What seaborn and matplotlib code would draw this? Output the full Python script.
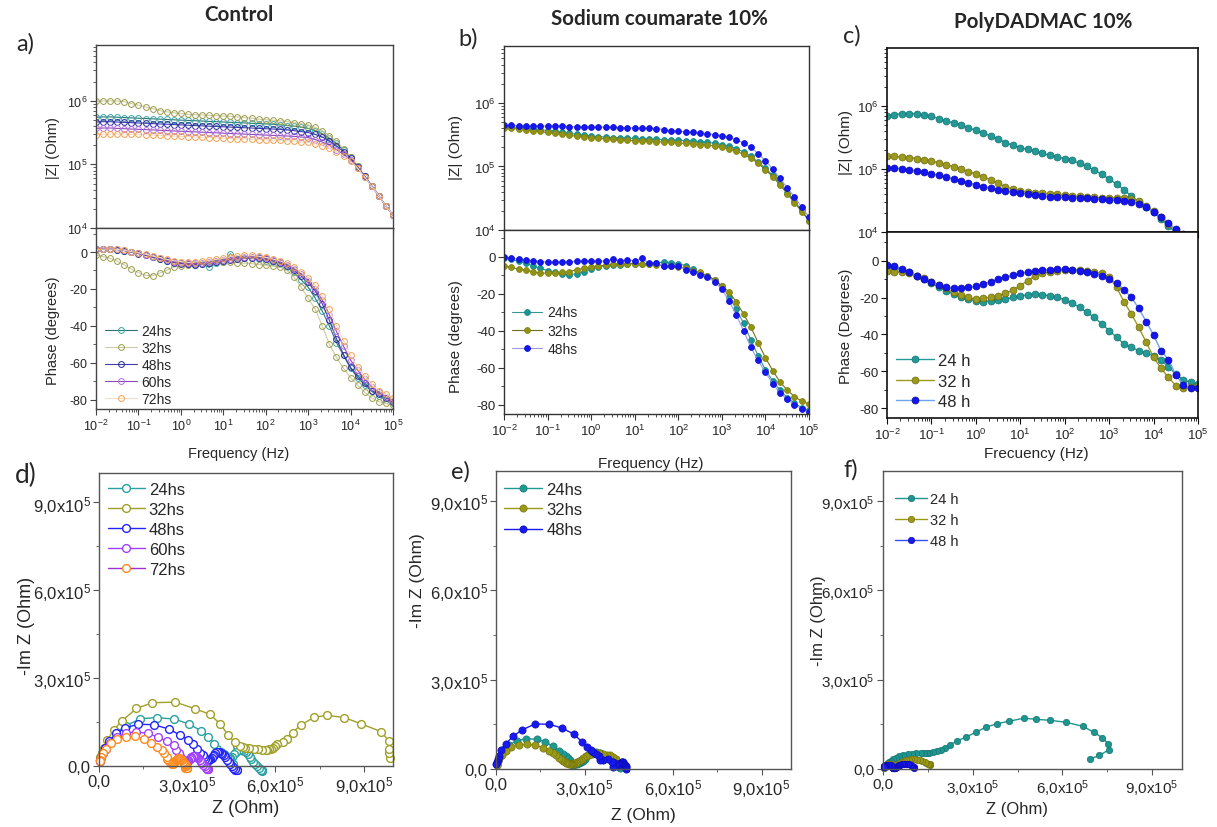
import numpy as np
import matplotlib
matplotlib.use("Agg")
import matplotlib.pyplot as plt
import seaborn as sns
from matplotlib.ticker import (FuncFormatter, LogLocator, MultipleLocator,
                               NullFormatter)

# ------------------------------------------------------------------ data
# measurement grid: 6 frequencies per decade, 10 mHz .. 100 kHz
FREQ_MANTISSA = [1.0, 1.468, 2.154, 3.162, 4.642, 6.813]
FREQ_DECADES = [-2, -1, 0, 1, 2, 3, 4]
FREQ = [m * 10.0 ** d for d in FREQ_DECADES for m in FREQ_MANTISSA] + [1.0e5]

# a) Control -- |Z| in kOhm, phase in degrees (low -> high frequency)
A_LABELS = ["24hs", "32hs", "48hs", "60hs", "72hs"]
A_ZMOD_24 = [550, 556, 556, 550, 543, 537, 531, 525, 519, 513,
             507, 501, 495, 490, 484, 479, 473, 468, 462, 457,
             452, 447, 442, 437, 431, 427, 417, 407, 398, 385,
             367, 339, 302, 257, 214, 166, 129, 93, 65, 46,
             32, 22, 16]
A_ZMOD_32 = [989, 989, 989, 989, 966, 902, 851, 794, 750, 700,
             668, 646, 631, 610, 603, 596, 589, 582, 575, 569,
             556, 543, 531, 513, 501, 495, 484, 468, 452, 437,
             417, 380, 339, 282, 234, 174, 132, 93, 65, 46,
             32, 22, 16]
A_ZMOD_48 = [462, 468, 468, 462, 457, 452, 447, 442, 437, 431,
             427, 422, 417, 412, 407, 403, 398, 394, 389, 385,
             380, 376, 372, 367, 363, 359, 355, 347, 339, 327,
             316, 295, 269, 234, 195, 158, 126, 91, 65, 46,
             32, 22, 16]
A_ZMOD_60 = [367, 372, 372, 367, 363, 359, 355, 351, 347, 343,
             339, 335, 331, 327, 324, 320, 316, 313, 309, 305,
             302, 299, 295, 292, 288, 285, 282, 279, 275, 269,
             263, 245, 224, 200, 170, 145, 117, 89, 63, 45,
             32, 22, 16]
A_ZMOD_72 = [292, 295, 299, 299, 299, 295, 295, 292, 288, 285,
             282, 279, 275, 272, 269, 266, 263, 260, 257, 254,
             251, 251, 248, 245, 243, 240, 237, 234, 232, 226,
             221, 209, 195, 178, 158, 135, 112, 87, 63, 45,
             32, 22, 16]
A_PHASE_24 = [1.4, 1.6, 1.5, 1.3, 0.8, 0.0, -0.8, -1.6, -2.6, -3.6,
              -4.6, -5.4, -6.0, -6.5, -7.0, -6.6, -8.3, -6.0, -5.2, -1.0,
              -3.8, -3.4, -3.4, -4.0, -4.6, -5.4, -6.4, -8.0, -11.0, -15.0,
              -19.0, -25.0, -32.0, -40.0, -49.0, -56.0, -63.0, -68.0, -72.0, -75.5,
              -78.0, -80.0, -82.0]
A_PHASE_32 = [-1.5, -2.5, -3.4, -5.0, -7.0, -9.2, -11.2, -12.6, -12.8, -11.5,
              -9.8, -8.2, -7.5, -7.0, -6.5, -6.0, -5.8, -5.6, -5.5, -5.5,
              -5.8, -6.0, -6.3, -6.8, -7.2, -7.6, -8.2, -10.0, -13.5, -19.0,
              -25.0, -31.0, -40.0, -50.0, -57.0, -63.0, -68.0, -72.0, -76.0, -79.0,
              -81.0, -82.0, -83.0]
A_PHASE_48 = [1.5, 1.7, 1.6, 1.3, 0.8, 0.0, -0.9, -1.8, -2.9, -4.0,
              -5.0, -5.8, -6.3, -6.6, -6.8, -6.6, -6.2, -5.6, -5.0, -4.3,
              -3.7, -3.3, -3.1, -3.4, -4.0, -4.8, -5.8, -7.5, -10.0, -13.0,
              -16.5, -21.0, -28.0, -37.0, -47.0, -55.5, -62.5, -67.0, -71.0, -75.0,
              -77.0, -79.0, -81.0]
A_PHASE_60 = [1.6, 1.8, 1.7, 1.5, 1.0, 0.2, -0.6, -1.5, -2.5, -3.5,
              -4.5, -5.3, -5.8, -6.1, -6.2, -6.0, -5.6, -5.0, -4.4, -3.8,
              -3.2, -2.8, -2.6, -2.9, -3.5, -4.3, -5.2, -7.0, -9.0, -12.0,
              -15.5, -20.0, -26.0, -34.0, -43.0, -51.0, -58.5, -64.0, -69.0, -73.0,
              -76.0, -78.5, -80.5]
A_PHASE_72 = [1.2, 1.6, 1.6, 1.4, 1.0, 0.2, -0.5, -1.2, -2.2, -3.0,
              -4.0, -4.7, -5.2, -5.6, -5.5, -5.0, -4.5, -4.0, -3.4, -2.6,
              -2.0, -1.6, -1.8, -2.3, -2.9, -3.8, -4.8, -6.0, -8.0, -11.0,
              -14.0, -18.0, -24.0, -31.0, -40.0, -48.0, -56.0, -62.0, -67.0, -71.5,
              -75.0, -77.0, -79.0]

# b) Sodium coumarate 10%
B_LABELS = ["24hs", "32hs", "48hs"]
B_ZMOD_24 = [421.7, 416.9, 407.4, 398.1, 389.0, 380.2, 367.3, 354.8, 342.8, 331.1,
             319.9, 309.0, 302.0, 295.1, 288.4, 285.1, 281.8, 278.6, 275.4, 272.3,
             269.2, 266.1, 263.0, 260.0, 257.0, 254.1, 251.2, 245.5, 239.9, 231.7,
             221.3, 206.5, 190.5, 169.8, 144.5, 117.5, 93.3, 72.4, 53.7, 38.9,
             28.2, 20.4, 14.1]
B_ZMOD_32 = [407.4, 398.1, 389.0, 380.2, 367.3, 354.8, 342.8, 331.1, 319.9, 309.0,
             298.5, 288.4, 281.8, 275.4, 270.4, 266.1, 261.8, 257.0, 254.1, 251.2,
             248.3, 245.5, 242.7, 238.8, 234.4, 230.1, 226.5, 221.3, 216.3, 208.9,
             199.5, 188.4, 173.8, 154.9, 134.9, 112.2, 89.1, 69.2, 51.3, 37.2,
             26.9, 19.5, 14.1]
B_ZMOD_48 = [441.6, 441.6, 439.5, 436.5, 434.5, 432.5, 430.5, 428.5, 426.6, 424.6,
             422.7, 420.7, 418.8, 416.9, 415.0, 412.0, 409.0, 407.0, 403.0, 398.0,
             398.0, 394.0, 380.0, 363.0, 355.0, 351.0, 343.0, 335.0, 327.0, 316.0,
             305.0, 288.0, 263.0, 234.0, 200.0, 158.0, 123.0, 91.0, 65.0, 46.0,
             33.0, 23.0, 16.0]
B_PHASE_24 = [-0.5, -1.5, -2.5, -3.6, -4.9, -6.3, -7.5, -8.5, -9.5, -9.7,
              -9.2, -8.0, -6.5, -5.5, -4.8, -4.5, -4.3, -4.0, -3.8, -4.0,
              -3.8, -3.5, -2.8, -3.2, -3.8, -4.8, -6.8, -8.8, -10.3, -12.5,
              -16.0, -21.5, -28.5, -36.0, -45.0, -53.5, -61.0, -67.0, -72.0, -76.0,
              -79.0, -81.5, -83.0]
B_PHASE_32 = [-4.9, -5.8, -6.7, -7.2, -8.1, -8.8, -8.9, -8.9, -8.5, -8.0,
              -7.0, -6.3, -5.3, -5.0, -4.6, -4.2, -3.8, -3.7, -3.8, -4.0,
              -4.2, -4.4, -4.8, -5.2, -5.6, -6.3, -7.5, -8.5, -10.2, -12.6,
              -15.8, -19.0, -24.5, -31.0, -38.0, -46.5, -54.5, -61.5, -67.5, -72.0,
              -75.5, -78.0, -79.5]
B_PHASE_48 = [0.0, -0.8, -1.3, -1.7, -2.2, -2.6, -3.0, -3.0, -3.0, -2.7,
              -2.4, -2.3, -2.2, -2.4, -2.4, -1.5, -2.3, -1.8, -2.2, -0.8,
              -3.6, -3.2, -5.2, -5.0, -5.0, -7.2, -8.4, -9.8, -11.0, -13.5,
              -17.5, -24.0, -31.5, -40.0, -49.0, -56.0, -62.5, -68.5, -73.5, -77.0,
              -80.0, -82.0, -84.0]

# c) PolyDADMAC 10%
C_LABELS = ["24 h", "32 h", "48 h"]
C_ZMOD_24 = [691.8, 724.4, 758.6, 758.6, 741.3, 716.1, 683.9, 631.0, 582.1, 537.0,
             501.2, 451.9, 412.1, 371.5, 335.0, 298.5, 263.0, 237.1, 218.8, 204.2,
             190.5, 177.8, 164.1, 154.9, 146.2, 136.5, 123.0, 109.6, 95.5, 82.2,
             69.2, 57.5, 46.8, 37.2, 30.2, 25.1, 20.4, 16.2, 12.6, 9.8,
             7.6, 6.0, 4.8]
C_ZMOD_32 = [158.5, 158.5, 154.9, 151.4, 146.2, 141.3, 133.4, 125.9, 117.5, 108.4,
             100.0, 91.2, 83.2, 75.0, 67.6, 58.9, 52.5, 47.9, 44.7, 43.2,
             42.2, 41.2, 40.3, 39.4, 38.5, 37.6, 36.7, 36.1, 35.6, 35.2,
             34.9, 34.7, 34.3, 33.5, 30.9, 26.3, 21.4, 17.0, 13.5, 10.7,
             8.5, 6.8, 5.4]
C_ZMOD_48 = [103.5, 102.8, 101.2, 97.7, 93.3, 89.1, 84.1, 79.4, 74.1, 69.2,
             64.6, 60.3, 56.2, 52.5, 49.5, 46.8, 44.7, 43.2, 41.7, 39.8,
             38.5, 37.2, 36.3, 35.7, 35.3, 34.9, 34.5, 34.1, 33.7, 33.3,
             32.7, 32.0, 31.3, 30.2, 28.2, 24.5, 20.9, 17.4, 13.8, 11.0,
             9.3, 7.6, 6.2]
C_PHASE_24 = [-2.7, -3.6, -4.9, -6.3, -8.1, -9.9, -12.1, -14.4, -16.3, -18.1,
              -19.9, -20.8, -21.7, -22.2, -21.7, -21.1, -20.8, -19.9, -19.0, -18.4,
              -18.1, -18.4, -19.0, -19.9, -21.1, -22.9, -25.3, -28.0, -30.7, -34.3,
              -37.9, -41.5, -45.1, -47.0, -48.8, -50.0, -51.5, -54.0, -57.5, -61.5,
              -64.5, -66.0, -67.0]
C_PHASE_32 = [-5.4, -6.0, -6.3, -6.9, -8.1, -9.6, -11.4, -13.2, -15.0, -17.2,
              -18.6, -19.9, -20.8, -20.4, -19.9, -19.0, -17.7, -15.9, -13.5, -10.8,
              -8.1, -6.9, -6.0, -5.4, -4.9, -4.9, -4.9, -5.4, -6.0, -6.9,
              -9.0, -14.4, -22.2, -28.9, -36.1, -44.2, -52.4, -58.3, -63.2, -67.7,
              -69.2, -68.6, -68.0]
C_PHASE_48 = [-2.3, -3.1, -4.5, -6.0, -8.1, -9.9, -11.7, -13.2, -14.4, -15.0,
              -15.0, -14.4, -13.9, -12.6, -11.4, -9.9, -9.0, -7.8, -6.9, -6.0,
              -5.4, -4.9, -4.9, -4.5, -4.5, -4.9, -5.4, -6.3, -7.2, -8.1,
              -9.9, -12.1, -15.7, -19.9, -25.8, -33.0, -40.3, -48.8, -53.6, -61.9,
              -67.4, -69.2, -69.0]

A_ZMOD = [A_ZMOD_24, A_ZMOD_32, A_ZMOD_48, A_ZMOD_60, A_ZMOD_72]
A_PHASE = [A_PHASE_24, A_PHASE_32, A_PHASE_48, A_PHASE_60, A_PHASE_72]
B_ZMOD = [B_ZMOD_24, B_ZMOD_32, B_ZMOD_48]
B_PHASE = [B_PHASE_24, B_PHASE_32, B_PHASE_48]
C_ZMOD = [C_ZMOD_24, C_ZMOD_32, C_ZMOD_48]
C_PHASE = [C_PHASE_24, C_PHASE_32, C_PHASE_48]

# ---------------------------------------------------------------- styles
STYLE_A = dict(edge=["#3aa3a3", "#9a9a4a", "#2a2a9c", "#b070e0", "#f2a050"],
               face=["none"] * 5,
               line=["#2f7373", "#cdcca6", "#3c3cae", "#8a48b8", "#f3dcc6"],
               ms=4.2, mew=0.7, lw=0.8)
STYLE_B = dict(edge=["#178a8a", "#85850e", "#1010d8"],
               face=["#1f9494", "#929214", "#1616ee"],
               line=["#3a9494", "#707018", "#9a9ae6"],
               ms=4.2, mew=0.6, lw=0.8)
STYLE_C = dict(edge=["#157272", "#6e6c10", "#0a0aa8"],
               face=["#239a96", "#9c9a1e", "#1414f0"],
               line=["#239a96", "#9c9a1e", "#6fa4f0"],
               ms=5.0, mew=0.5, lw=1.0)
STYLE_D = dict(edge=["#2aa0a0", "#a0a028", "#2323ff", "#a040ff", "#ff8a1e"],
               face=["white"] * 5,
               line=["#2aa0a0", "#a0a028", "#2323ff", "#a040ff", "#a030d0"],
               ms=5.6, mew=1.0, lw=1.0)
STYLE_E = dict(edge=["#157a74", "#76760e", "#0c0cb8"],
               face=["#1f9a92", "#9a9a18", "#1818f0"],
               line=["#1f9a92", "#9a9a18", "#1818f0"],
               ms=5.2, mew=0.5, lw=1.0)
STYLE_F = dict(edge=["#157572", "#76760e", "#0c0cb8"],
               face=["#1f9590", "#9a9a18", "#1a1af0"],
               line=["#1f9590", "#9a9a18", "#3050ff"],
               ms=4.6, mew=0.5, lw=1.0)

sns.set_theme(style="ticks")
plt.rcParams["font.family"] = ["Liberation Sans", "DejaVu Sans"]
plt.rcParams["mathtext.default"] = "regular"
plt.rcParams["axes.unicode_minus"] = False

W, H = 1217, 828
fig = plt.figure(figsize=(W / 100, H / 100), dpi=100)


def rect(left, top, right, bottom):
    return [left / W, 1 - bottom / H, (right - left) / W, (bottom - top) / H]


def draw(ax, x, y, st, i, label, clip=True):
    sns.lineplot(x=x, y=y, ax=ax, estimator=None, sort=False, legend=False,
                 color=st["line"][i], linewidth=st["lw"], marker="o",
                 markersize=st["ms"], markerfacecolor=st["face"][i],
                 markeredgecolor=st["edge"][i], markeredgewidth=st["mew"],
                 label=label, clip_on=clip)


def frame(ax, color="#444444", lw=1.0):
    for s in ax.spines.values():
        s.set_visible(True)
        s.set_color(color)
        s.set_linewidth(lw)
    ax.set_facecolor("white")


def nyq_fmt(v, pos):
    if abs(v) < 1:
        return "0,0"
    return ("%.1f" % (v / 1e5)).replace(".", ",") + r"x$\mathdefault{10^{5}}$"


def legend(ax, anchor, fs, hl, pad, spacing):
    ax.legend(loc="upper left", bbox_to_anchor=anchor, frameon=False,
              fontsize=fs, handlelength=hl, handletextpad=pad,
              labelspacing=spacing, borderpad=0, borderaxespad=0)


def bode(box_mod, box_ph, zmods, phases, labels, st, ztop, plim, tick_fs,
         lab_fs, ph_label, f_label, ylab_x, ylab_y, xlab_pos, spine):
    ax_m = fig.add_axes(rect(*box_mod))
    ax_p = fig.add_axes(rect(*box_ph))
    for i, (zm, ph, lab) in enumerate(zip(zmods, phases, labels)):
        draw(ax_m, FREQ, np.asarray(zm) * 1e3, st, i, lab)
        draw(ax_p, FREQ, ph, st, i, lab)
    for ax in (ax_m, ax_p):
        ax.set_xscale("log")
        ax.set_xlim(1e-2, 1e5)
        ax.xaxis.set_major_locator(LogLocator(base=10, numticks=15))
        ax.xaxis.set_minor_locator(LogLocator(base=10, subs=np.arange(2, 10) * 1.0, numticks=15))
        ax.xaxis.set_minor_formatter(NullFormatter())
        ax.tick_params(which="major", length=4, width=0.8, labelsize=tick_fs, pad=2,
                       direction="out", color=spine[0])
        ax.tick_params(which="minor", length=2, width=0.6, direction="out", color=spine[0])
        frame(ax, *spine)
    ax_m.set_yscale("log")
    ax_m.set_ylim(1e4, ztop)
    ax_m.yaxis.set_major_locator(LogLocator(base=10, numticks=10))
    ax_m.yaxis.set_minor_locator(LogLocator(base=10, subs=np.arange(2, 10) * 1.0, numticks=10))
    ax_m.yaxis.set_minor_formatter(NullFormatter())
    ax_m.tick_params(axis="x", labelbottom=False)
    ax_p.set_ylim(*plim)
    ax_p.yaxis.set_major_locator(MultipleLocator(20))
    ax_p.yaxis.set_minor_locator(MultipleLocator(10))
    ax_m.set_ylabel("|Z| (Ohm)", fontsize=lab_fs)
    ax_p.set_ylabel(ph_label, fontsize=lab_fs)
    ax_p.set_xlabel(f_label, fontsize=lab_fs)
    ax_m.yaxis.set_label_coords(ylab_x, ylab_y[0])
    ax_p.yaxis.set_label_coords(ylab_x, ylab_y[1])
    ax_p.xaxis.set_label_coords(*xlab_pos)
    return ax_m, ax_p


def nyquist(box, zmods, phases, labels, st, tick_fs, lab_fs, ylab_pos, xlab_pos, spine):
    ax = fig.add_axes(rect(*box))
    for i, (zm, ph, lab) in enumerate(zip(zmods, phases, labels)):
        z = np.asarray(zm) * 1e3
        rad = np.deg2rad(ph)
        draw(ax, z * np.cos(rad), -z * np.sin(rad), st, i, lab, clip=False)
    ax.set_xlim(0, 1e6)
    ax.set_ylim(0, 1e6)
    for axis in (ax.xaxis, ax.yaxis):
        axis.set_major_locator(MultipleLocator(3e5))
        axis.set_minor_locator(MultipleLocator(1.5e5))
        axis.set_major_formatter(FuncFormatter(nyq_fmt))
    ax.tick_params(which="major", length=4, width=0.8, labelsize=tick_fs, pad=2,
                   direction="out", color=spine[0])
    ax.tick_params(which="minor", length=2.5, width=0.6, direction="out", color=spine[0])
    frame(ax, *spine)
    ax.set_xlabel("Z (Ohm)", fontsize=lab_fs)
    ax.set_ylabel("-Im Z (Ohm)", fontsize=lab_fs)
    ax.yaxis.set_label_coords(*ylab_pos)
    ax.xaxis.set_label_coords(*xlab_pos)
    return ax


# ------------------------------------------------------------ top row
_, ax_ap = bode((96, 46, 393, 229), (96, 229, 393, 410), A_ZMOD, A_PHASE, A_LABELS,
                STYLE_A, 10 ** 6.875, (-85, 13), 9, 10.5, "Phase (degrees)",
                "Frequency (Hz)", -0.121, (0.44, 0.436), (0.48, -0.204), ("#444444", 1.0))
legend(ax_ap, (0.03, 0.47), 10, 2.3, 0.35, 0.22)

_, ax_bp = bode((504, 47, 809, 231), (504, 231, 809, 415), B_ZMOD, B_PHASE, B_LABELS,
                STYLE_B, 10 ** 6.895, (-84.9, 14.4), 9.5, 11, "Phase (degrees)",
                "Frequency (Hz)", -0.134, (0.454, 0.426), (0.48, -0.228), ("#333333", 1.0))
legend(ax_bp, (0.026, 0.59), 10, 2.2, 0.36, 0.3)

_, ax_cp = bode((887, 49, 1198, 233), (887, 233, 1198, 419), C_ZMOD, C_PHASE, C_LABELS,
                STYLE_C, 10 ** 6.92, (-85.3, 15.6), 9.5, 11, "Phase (Degrees)",
                "Frecuency (Hz)", -0.109, (0.49, 0.496), (0.479, -0.15), ("#111111", 1.2))
legend(ax_cp, (0.029, 0.35), 12, 2.3, 0.24, 0.34)

# --------------------------------------------------------- bottom row
ax_d = nyquist((99, 474, 393, 767), A_ZMOD, A_PHASE, A_LABELS, STYLE_D, 12, 13,
               (-0.218, 0.48), (0.5, -0.113), ("#555555", 1.0))
legend(ax_d, (0.031, 0.97), 12, 2.2, 0.24, 0.3)

ax_e = nyquist((496, 472, 791, 770), B_ZMOD, B_PHASE, B_LABELS, STYLE_E, 12, 12.5,
               (-0.24, 0.634), (0.5, -0.128), ("#555555", 1.0))
legend(ax_e, (0.027, 0.963), 12, 2.3, 0.24, 0.31)

ax_f = nyquist((883, 472, 1182, 770), C_ZMOD, C_PHASE, C_LABELS, STYLE_F, 11, 12,
               (-0.19, 0.5), (0.448, -0.107), ("#555555", 1.0))
legend(ax_f, (0.04, 0.93), 10.5, 2.2, 0.22, 0.49)

# --------------------------------------------------- titles and letters
for x, y, txt in [(239, 15, "Control"), (659, 19, "Sodium coumarate 10%"),
                  (1043, 22, "PolyDADMAC 10%")]:
    fig.text(x / W, 1 - y / H, txt, ha="center", va="center", fontsize=14.8,
             fontweight="bold", family=["Lato", "DejaVu Sans"])
for x, y, txt, fs in [(25, 44, "a)", 17), (468, 39, "b)", 17), (852, 36, "c)", 17),
                      (26, 475, "d)", 19), (460, 472, "e)", 17), (851, 470, "f)", 17)]:
    fig.text(x / W, 1 - y / H, txt, ha="center", va="center", fontsize=fs,
             family=["Lato", "DejaVu Sans"])

fig.savefig("out.png", dpi=100)
